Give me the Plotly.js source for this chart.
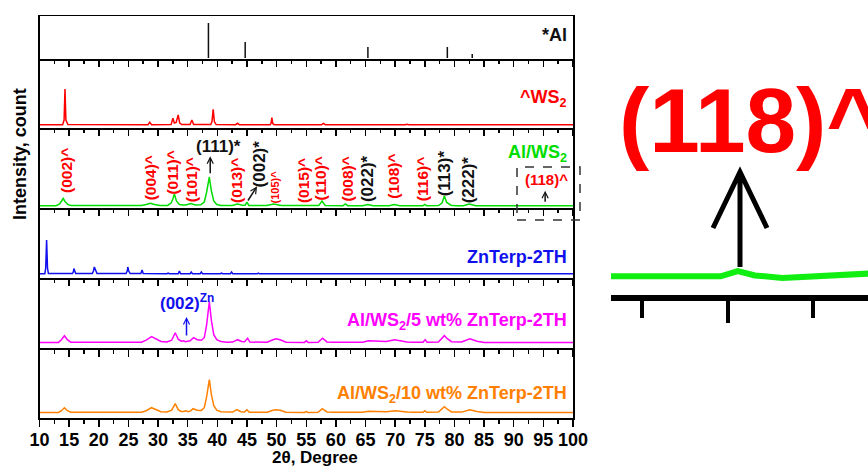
<!DOCTYPE html>
<html><head><meta charset="utf-8">
<script src="https://cdn.plot.ly/plotly-3.0.1.min.js"></script>
<style>body{margin:0;padding:0;background:#fff}#chart{width:868px;height:468px}</style>
</head><body><div id="chart"></div>
<script>
// ---------------- DATA ----------------
// Al reference sticks (2θ, relative height)
const alStickPos = [38.5, 44.7, 65.4, 78.8, 83.0];
const alStickHeight = [35, 16, 11, 11, 4];

// ^WS2 pattern [2θ, intensity]
const ws2Pattern = [[10,0.3],[13.9,0.3],[14.15,5],[14.3,36],[14.45,5],[14.8,0.4],[28.3,0.3],[28.6,2.7],[28.9,0.3],[32.2,0.4],[32.5,6.7],[32.75,2],[33.05,2.5],[33.4,10],[33.65,2],[34.0,0.4],[35.4,0.4],[35.7,5],[36.0,0.4],[38.9,0.4],[39.1,3.5],[39.3,15.7],[39.5,3.5],[39.8,0.4],[43.1,0.3],[43.4,1.7],[43.7,0.3],[48.9,0.3],[49.05,1.5],[49.2,7.3],[49.35,1.5],[49.6,0.3],[57.6,0.3],[57.9,1.5],[58.2,0.3],[59.8,0.3],[60.1,1],[60.4,0.3],[71.7,0.2],[72.0,0.7],[72.3,0.2],[78.8,0.2],[79.1,0.6],[79.4,0.2],[100,0.2]];

// Al/WS2 pattern
const alws2Pattern = [[10,0.3],[12.8,0.3],[13.4,2],[13.75,5],[14.0,7.5],[14.3,4.5],[14.8,1.5],[15.4,0.4],[27.2,0.4],[28.0,1.5],[28.7,2.7],[29.4,1.5],[30.3,0.5],[31.6,0.6],[32.2,3],[32.5,7],[32.75,12],[33.1,5],[33.6,1.5],[34.2,1],[34.7,1],[35.5,2.5],[36.3,1],[37.2,1.2],[37.8,4],[38.2,14],[38.65,29],[39.0,15],[39.4,5],[39.9,1.5],[40.6,0.6],[42.5,0.5],[43.4,2],[44.2,0.7],[44.7,0.8],[45.0,4],[45.3,0.6],[48.3,0.4],[49.5,2],[50.8,0.4],[54.8,0.3],[55.1,1],[55.4,0.3],[57.1,0.4],[57.65,5],[58.2,0.6],[61.2,0.3],[61.6,2],[62.0,0.3],[64.5,0.3],[65.4,1.5],[66.3,0.3],[69.0,0.3],[69.8,1.5],[70.8,0.3],[74.7,0.3],[75.0,1.5],[75.3,0.3],[77.3,0.5],[77.9,3],[78.3,10],[78.7,3.5],[79.4,0.8],[80.2,0.3],[81.5,0.3],[82.5,2],[83.6,0.3],[91.6,0.1],[94.8,0.1],[95.3,0.4],[95.8,0.15],[96.6,0],[99,0.35],[100,0.35]];

// ZnTerp-2TH pattern
const znPattern = [[10,0.3],[10.9,0.3],[11.05,6],[11.2,34],[11.35,6],[11.5,0.4],[15.55,0.4],[15.7,2],[15.8,5.5],[15.95,1.5],[16.1,0.4],[18.9,0.4],[19.1,3],[19.25,7],[19.45,3],[19.7,0.4],[24.6,0.4],[24.8,3],[24.9,7],[25.05,3],[25.3,0.4],[27.1,0.4],[27.3,4],[27.5,0.4],[31.5,0.3],[31.7,1],[31.9,0.3],[33.4,0.3],[33.6,3],[33.8,0.3],[35.4,0.3],[35.6,2],[35.8,0.3],[37.1,0.3],[37.3,2],[37.5,0.3],[40.5,0.3],[40.7,1],[40.9,0.3],[42.2,0.3],[42.4,2],[42.6,0.3],[46.7,0.2],[46.9,0.8],[47.1,0.2],[100,0.2]];

// Al/WS2/5 wt% ZnTerp-2TH pattern
const zn5Pattern = [[10,0.3],[13.2,0.3],[13.7,3],[14.2,7],[14.7,3],[15.3,0.4],[27.2,0.4],[28.0,2.5],[28.9,6],[29.6,4],[30.5,1.2],[31.5,0.8],[32.3,2.5],[32.9,10],[33.4,3.5],[33.9,1.5],[34.3,2],[34.6,1],[35.0,1.5],[35.4,2],[36.0,5],[36.6,3],[37.3,2.5],[37.8,5],[38.2,18],[38.65,41],[39.0,22],[39.4,8],[39.9,3],[40.6,1.2],[41.6,0.5],[42.6,0.6],[43.4,3],[44.1,1.2],[44.6,1],[45.1,4.5],[45.5,0.6],[48.4,0.5],[49.4,3],[49.9,4],[50.6,3],[51.6,0.5],[54.7,0.3],[55.0,2],[55.3,0.3],[57.0,0.4],[57.75,4.5],[58.5,0.8],[59.5,0.5],[61.2,0.5],[61.6,1.2],[62.0,0.5],[64.5,0.5],[65.5,2],[66.5,1.5],[67.5,1],[68.5,1.2],[69.9,3],[71,1.5],[72,0.8],[73,0.5],[74.7,0.5],[75.05,3],[75.4,0.5],[77.3,0.8],[77.9,4],[78.3,7],[78.8,4],[79.5,1],[81.2,0.8],[82.6,4],[83.8,1.5],[85,0.3],[95.0,0.3],[95.3,0.6],[95.6,0.3],[100,0.3]];

// Al/WS2/10 wt% ZnTerp-2TH pattern
const zn10Pattern = [[10,0.3],[13.2,0.3],[13.7,2],[14.2,5],[14.7,2],[15.3,0.4],[27.2,0.4],[28.0,2],[28.9,5],[29.6,3.5],[30.5,1],[31.5,0.7],[32.3,2.5],[32.9,9],[33.4,3],[33.9,1.2],[34.3,1.2],[34.7,2],[35.1,1],[35.5,1.8],[35.9,4],[36.6,2.5],[37.3,2.3],[37.8,5],[38.2,16],[38.65,33],[39.0,18],[39.4,7],[39.9,2.5],[40.6,1],[41.6,0.5],[42.6,0.6],[43.3,3],[44.0,1],[44.6,0.8],[45.0,3],[45.4,0.5],[48.4,0.5],[49.4,2.5],[49.9,3],[50.6,2.5],[51.6,0.5],[54.7,0.3],[55.0,1.2],[55.3,0.3],[57.0,0.4],[57.7,4],[58.5,0.8],[59.5,0.5],[61.2,0.4],[61.5,1],[61.8,0.4],[64.5,0.4],[65.5,1.5],[66.5,1.2],[67.5,0.8],[68.5,1],[70,2],[71,1.2],[72,0.6],[73,0.4],[74.7,0.4],[75.0,2],[75.3,0.4],[77.3,0.6],[77.9,3.5],[78.3,6],[78.8,3.5],[79.5,0.8],[81.2,0.6],[82.6,3],[83.8,1.2],[85,0.3],[95.0,0.3],[95.3,0.5],[95.6,0.3],[100,0.3]];

// Tick labels
const tickVals = [10,15,20,25,30,35,40,45,50,55,60,65,70,75,80,85,90,95,100];
const tickText = ['10','15','20','25','30','35','40','45','50','55','60','65','70','75','80','85','90','95','100'];

// Panel names
const panelNames = ['*Al', '^WS<sub>2</sub>', 'Al/WS<sub>2</sub>', 'ZnTerp-2TH', 'Al/WS<sub>2</sub>/5 wt% ZnTerp-2TH', 'Al/WS<sub>2</sub>/10 wt% ZnTerp-2TH'];
const panelColors = ['#111111', '#ff0000', '#00dd00', '#1010ee', '#ff00ff', '#ff8000'];

// Miller index labels on the Al/WS2 pattern
const hklText = ['(002)^','(004)^','(011)^','(101)^','(013)^','(002)*','(105)^','(015)^','(110)^','(008)^','(022)*','(108)^','(116)^','(113)*','(222)*'];
const hklPos = [14.55, 28.7, 32.5, 35.7, 43.3, 47.1, 49.8, 54.55, 57.4, 61.9, 65.3, 69.7, 74.5, 78.3, 82.4];

// ---------------- LAYOUT HELPERS ----------------
const W = 868, H = 468;
const px = v => v / W;
const py = v => 1 - v / H;
const panelTop = [16, 60.5, 129.5, 209.5, 279.5, 350];
const panelBot = [58.5, 127.5, 207.5, 277.5, 348, 418];
const baseLine = [58, 125, 206, 274, 342.7, 412.7];
const hklYpx = [170.5, 178, 172.7, 179.5, 180, 164, 187, 180.5, 178, 179.3, 178.8, 176.3, 179.3, 173, 179.7];
const labelYpx = [35, 98, 154, 257, 321, 394];
const xL = 39.5, xR = 573;
const FONT = 'Liberation Sans, Arial, sans-serif';

const xs = arr => arr.map(p => p[0]);
const ys = arr => arr.map(p => p[1]);

// sticks built from arrays
const stickX = [], stickY = [];
alStickPos.forEach((p, i) => { stickX.push(p, p, null); stickY.push(0, alStickHeight[i], null); });

const patterns = [ws2Pattern, alws2Pattern, znPattern, zn5Pattern, zn10Pattern];
const traces = [{
  x: stickX, y: stickY, type: 'scatter', mode: 'lines', xaxis: 'x', yaxis: 'y',
  line: {color: '#111', width: 1.5}, hoverinfo: 'skip'
}];
patterns.forEach((pat, i) => {
  traces.push({
    x: xs(pat), y: ys(pat), type: 'scatter', mode: 'lines',
    xaxis: 'x' + (i + 2), yaxis: 'y' + (i + 2),
    line: {color: panelColors[i + 1], width: 1.5}, hoverinfo: 'skip'
  });
});
// inset: zoom of the Al/WS2 pattern
traces.push({
  x: xs(alws2Pattern), y: ys(alws2Pattern), type: 'scatter', mode: 'lines',
  xaxis: 'x7', yaxis: 'y7', line: {color: '#11ee11', width: 6}, hoverinfo: 'skip'
});

const layout = {
  width: W, height: H, margin: {l: 0, r: 0, t: 0, b: 0},
  paper_bgcolor: '#fff', plot_bgcolor: 'rgba(0,0,0,0)', showlegend: false,
  font: {family: FONT, color: '#000'},
  annotations: [], shapes: []
};

for (let i = 0; i < 6; i++) {
  const k = i === 0 ? '' : String(i + 1);
  layout['xaxis' + k] = {
    domain: [px(xL), px(xR)], anchor: 'y' + k, range: [10, 100],
    showline: true, mirror: true, linecolor: '#000', linewidth: 1.5,
    ticks: 'outside', ticklen: 7, tickwidth: 1.5, tickcolor: '#000',
    tickmode: 'array', tickvals: tickVals, ticktext: tickText,
    showticklabels: i === 5, ticklabelstandoff: -2,
    tickfont: {family: FONT, size: 18, color: '#000', weight: 'bold'},
    minor: {dtick: 2.5, tick0: 10, ticks: 'outside', ticklen: 4, tickwidth: 1.5, tickcolor: '#000'},
    showgrid: false, zeroline: false, fixedrange: true
  };
  layout['yaxis' + k] = {
    domain: [py(panelBot[i]), py(panelTop[i])], anchor: 'x' + k,
    range: [-(panelBot[i] - baseLine[i]), baseLine[i] - panelTop[i]],
    showline: true, mirror: true, linecolor: '#000', linewidth: 1.5,
    ticks: '', showticklabels: false, showgrid: false, zeroline: false, fixedrange: true
  };
  layout.annotations.push({
    xref: 'paper', yref: 'paper', x: px(569), y: py(labelYpx[i]),
    xanchor: 'right', yanchor: 'middle', showarrow: false,
    text: '<b>' + panelNames[i] + '</b>',
    font: {family: FONT, size: 18, color: panelColors[i]}
  });
}

// inset axes
layout.xaxis7 = {
  domain: [px(611), 1], anchor: 'y7', range: [91.6, 99.1],
  showline: true, linecolor: '#000', linewidth: 6,
  ticks: 'outside', ticklen: 22, tickwidth: 4, tickcolor: '#000',
  tickmode: 'array', tickvals: tickVals, showticklabels: false,
  minor: {dtick: 2.5, tick0: 10, ticks: 'outside', ticklen: 17, tickwidth: 4, tickcolor: '#000'},
  showgrid: false, zeroline: false, fixedrange: true
};
layout.yaxis7 = {
  domain: [py(295), py(235)], anchor: 'x7', range: [-1, 2.53],
  visible: false, fixedrange: true
};

// hkl labels
hklText.forEach((t, i) => {
  const black = t.indexOf('*') >= 0;
  let size = black ? 17 : 15.5;
  if (t === '(105)^') size = 11;
  layout.annotations.push({
    xref: 'x3', yref: 'paper', x: hklPos[i], y: py(hklYpx[i]),
    xanchor: 'center', yanchor: 'middle', textangle: -90, showarrow: false,
    text: '<b>' + t + '</b>',
    font: {family: FONT, size: size, color: black ? '#111' : '#ff0000'}
  });
});
// horizontal labels
layout.annotations.push({
  xref: 'x3', yref: 'paper', x: 40.2, y: py(146.3), xanchor: 'center', yanchor: 'middle', showarrow: false,
  text: '<b>(111)*</b>', font: {family: FONT, size: 17, color: '#111'}
});
layout.annotations.push({
  xref: 'x3', yref: 'paper', x: 95.6, y: py(180), xanchor: 'center', yanchor: 'middle', showarrow: false,
  text: '<b>(118)^</b>', font: {family: FONT, size: 15, color: '#ff0000'}
});
layout.annotations.push({
  xref: 'x5', yref: 'paper', x: 34.9, y: py(302), xanchor: 'center', yanchor: 'middle', showarrow: false,
  text: '<b>(002)<sup>Zn</sup></b>', font: {family: FONT, size: 17, color: '#1010ee'}
});
// small arrows
const arrowBase = {text: '', showarrow: true, arrowhead: 5, arrowsize: 0.8, arrowwidth: 1.5, yref: 'paper'};
layout.annotations.push(Object.assign({}, arrowBase, {xref: 'x3', x: 38.8, y: py(156.3), ax: 0, ay: 18.4, arrowcolor: '#111'}));
layout.annotations.push(Object.assign({}, arrowBase, {xref: 'x3', x: 46.7, y: py(186.3), ax: -10, ay: 15.7, arrowcolor: '#111'}));
layout.annotations.push(Object.assign({}, arrowBase, {xref: 'x3', x: 95.3, y: py(190.7), ax: 0, ay: 12.6, arrowcolor: '#111'}));
layout.annotations.push(Object.assign({}, arrowBase, {xref: 'x5', x: 34.8, y: py(317), ax: 0, ay: 20, arrowcolor: '#1010ee'}));

// axis titles
layout.annotations.push({
  xref: 'paper', yref: 'paper', x: px(20), y: py(154), xanchor: 'center', yanchor: 'middle',
  textangle: -90, showarrow: false,
  text: '<b>Intensity, count</b>', font: {family: FONT, size: 18, color: '#000'}
});
layout.annotations.push({
  xref: 'paper', yref: 'paper', x: px(315), y: py(457), xanchor: 'center', yanchor: 'middle',
  showarrow: false,
  text: '<b>2θ, Degree</b>', font: {family: FONT, size: 17, color: '#000'}
});

// inset big label
layout.annotations.push({
  xref: 'paper', yref: 'paper', x: px(617), y: py(120.5), xanchor: 'left', yanchor: 'middle',
  showarrow: false, text: '<b>(118)^</b>', font: {family: FONT, size: 91, color: '#ff0000'}
});

// dashed zoom box
layout.shapes.push({
  type: 'rect', xref: 'paper', yref: 'paper', x0: px(517), x1: px(580), y0: py(220), y1: py(167),
  line: {color: '#333', width: 1.5, dash: 'dash'}
});
// inset arrow
layout.shapes.push({
  type: 'path', xref: 'paper', yref: 'paper',
  path: `M ${px(740)},${py(267)} L ${px(740)},${py(172)} M ${px(713)},${py(228)} L ${px(740)},${py(172)} L ${px(767)},${py(228)}`,
  line: {color: '#000', width: 5}
});

Plotly.newPlot('chart', traces, layout, {staticPlot: true, displayModeBar: false});
</script>
</body></html>
